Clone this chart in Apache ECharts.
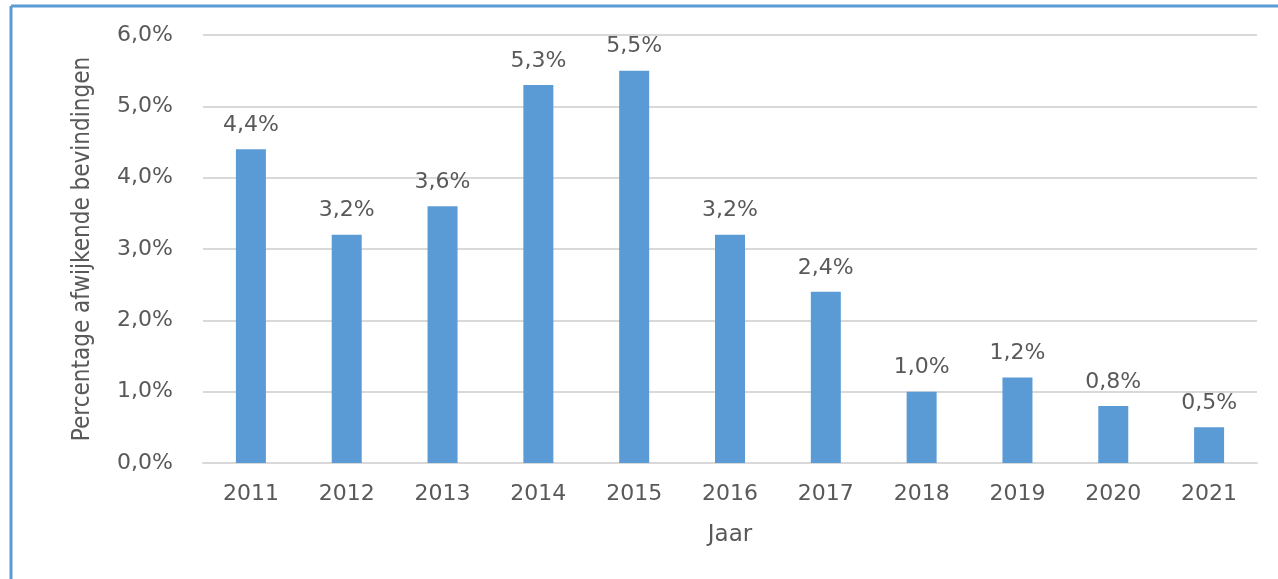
<!DOCTYPE html>
<html><head><meta charset="utf-8">
<script src="https://cdn.jsdelivr.net/npm/echarts@6/dist/echarts.min.js"></script>
<style>html,body{margin:0;padding:0;background:#fff}#c{width:1278px;height:579px}</style>
</head><body><div id="c"></div>
<script>
const categories = ['2011','2012','2013','2014','2015','2016','2017','2018','2019','2020','2021'];
const values = [4.4, 3.2, 3.6, 5.3, 5.5, 3.2, 2.4, 1.0, 1.2, 0.8, 0.5];
const yTicks = [0,1,2,3,4,5,6];
const fmt = v => v.toFixed(1).replace('.', ',') + '%';
const chart = echarts.init(document.getElementById('c'));
chart.setOption({
  animation:false,
  textStyle:{fontFamily:'DejaVu Sans'},
  grid:{left:203,right:21,top:35,bottom:116},
  xAxis:{type:'category',data:categories,
    name:'Jaar',nameLocation:'middle',nameGap:61,
    nameTextStyle:{fontSize:23,color:'#595959',fontFamily:'DejaVu Sans'},
    axisLine:{lineStyle:{color:'#d9d9d9',width:2}},axisTick:{show:false},
    axisLabel:{fontSize:22,color:'#595959',margin:20}},
  yAxis:{type:'value',min:0,max:6,interval:1,
    name:'Percentage afwijkende bevindingen',nameLocation:'middle',nameGap:108,
    nameTextStyle:{fontSize:24,color:'#595959',fontFamily:'"DejaVu Sans Condensed", "Liberation Sans", sans-serif'},
    axisLine:{show:false},axisTick:{show:false},
    splitLine:{lineStyle:{color:'#d9d9d9',width:2}},
    axisLabel:{fontSize:22,color:'#595959',margin:30,formatter:fmt}},
  series:[{type:'bar',data:values,barWidth:30,
    itemStyle:{color:'#5b9bd5'},
    label:{show:true,position:'top',distance:13,fontSize:22,color:'#595959',formatter:p=>fmt(p.value)}}],
  graphic:[
    {type:'line',shape:{x1:11,y1:6,x2:1278,y2:6},style:{stroke:'#5b9bd5',lineWidth:3}},
    {type:'line',shape:{x1:11,y1:6,x2:11,y2:579},style:{stroke:'#5b9bd5',lineWidth:3}}
  ]
});
</script></body></html>
